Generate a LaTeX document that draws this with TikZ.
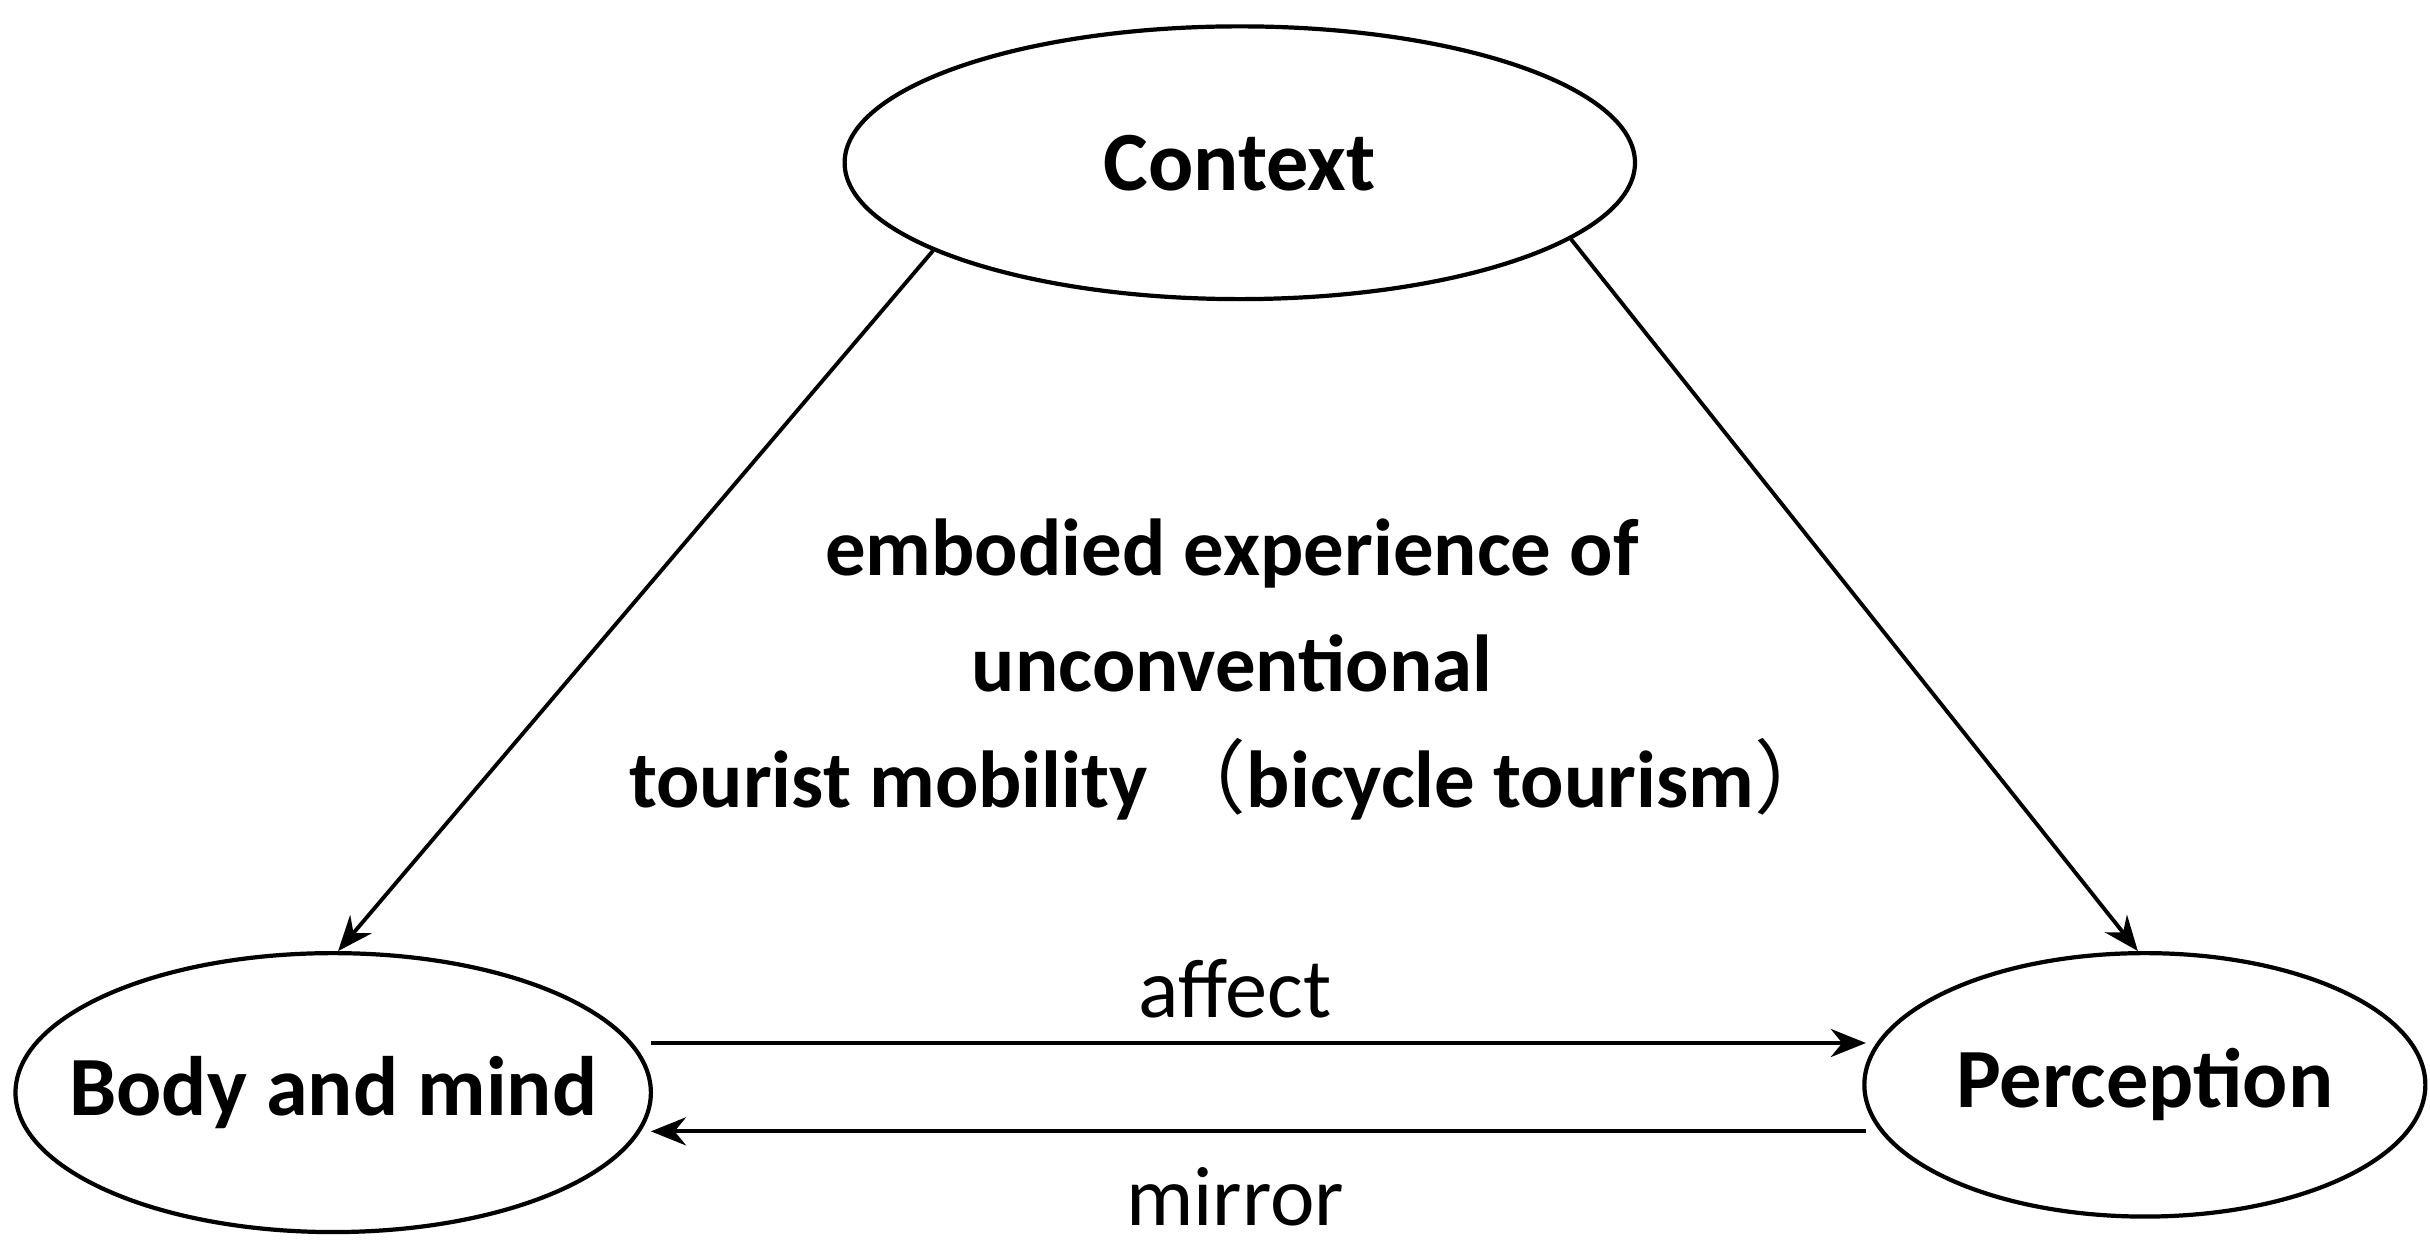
\documentclass[tikz,border=0pt]{standalone}
\usepackage{fontspec}
\setmainfont{Carlito}
\newfontfamily\cjk{Noto Sans CJK SC}
\usetikzlibrary{arrows.meta,shapes.geometric}
\begin{document}
\begin{tikzpicture}[x=0.0155cm,y=-0.0155cm,
  ell/.style={draw,line width=1.2pt,ellipse,inner sep=0pt},
  nt/.style={font=\fontsize{24}{30}\selectfont\bfseries},
  arr/.style={line width=1.1pt,-{Stealth[length=10pt,width=8pt]}},
  lab/.style={font=\fontsize{24}{30}\selectfont},
  mid/.style={font=\fontsize{23}{33}\selectfont\bfseries,align=center}]
\useasboundingbox (0,0) rectangle (1568,812);
\node[ell,minimum width=510*0.0155cm,minimum height=176*0.0155cm] (ctx) at (800,105) {};
\node[nt] (ctxt) at (ctx) {Context};
\node[ell,minimum width=410*0.0155cm,minimum height=180*0.0155cm] (bm) at (215,705) {};
\node[nt] (bmt) at (bm) {Body and mind};
\node[ell,minimum width=362*0.0155cm,minimum height=170*0.0155cm] (pc) at (1384,700) {};
\node[nt] (pct) at (pc) {Perception};
\draw[arr] (ctx.196) -- (bm.88);
\draw[arr] (ctx.-13) -- (pc.93);
\coordinate (a1) at (420,673);
\coordinate (a2) at (1204,673);
\coordinate (m1) at (1204,730);
\coordinate (m2) at (420,730);
\draw[arr] (a1) -- (a2);
\draw[arr] (m1) -- (m2);
\node[lab] (aff) at (797,638) {affect};
\node[lab] (mir) at (797,772) {mirror};
\node[mid] (txt) at (795,432) {embodied experience of\\unconventional\\tourist mobility {\cjk\mdseries（}bicycle tourism{\cjk\mdseries）}};
\end{tikzpicture}
\end{document}
